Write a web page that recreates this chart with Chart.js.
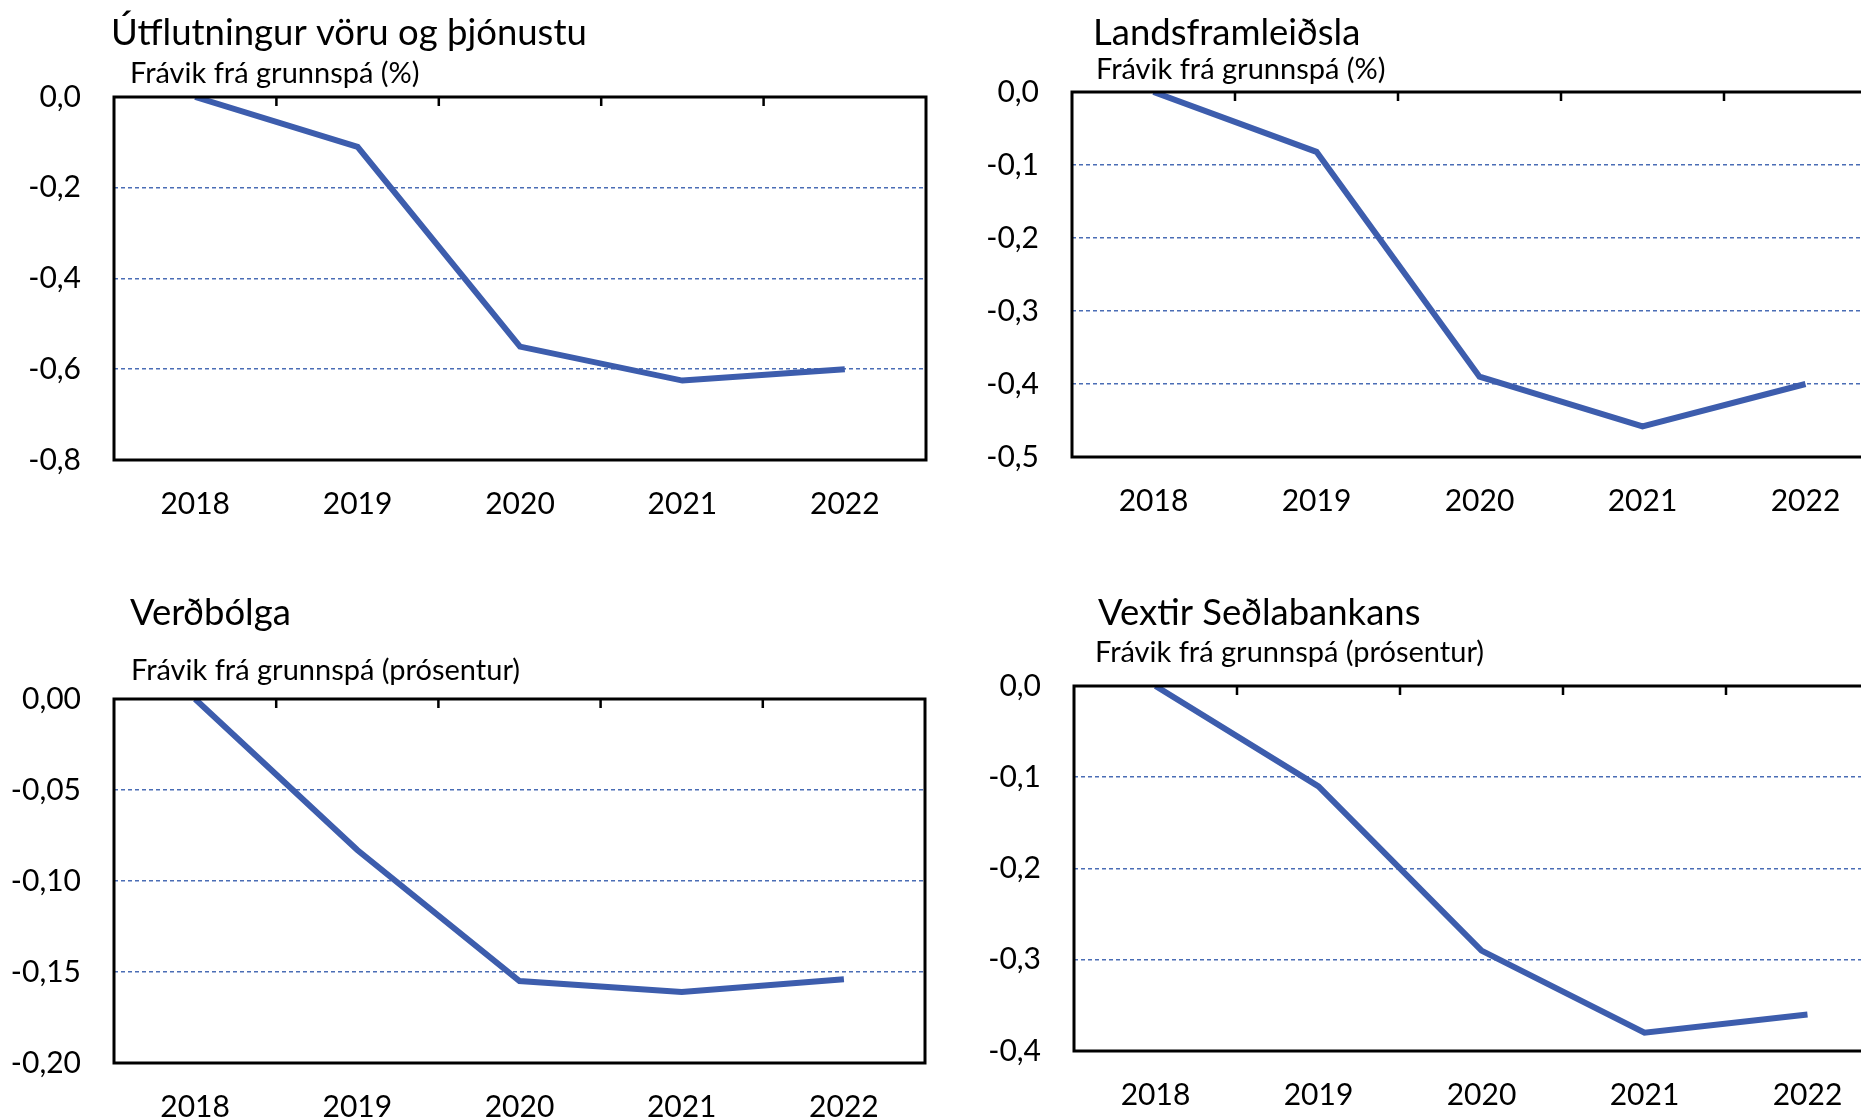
<!DOCTYPE html>
<html lang="is">
<head>
<meta charset="utf-8">
<title>Frávik frá grunnspá</title>
<script src="https://cdn.jsdelivr.net/npm/chart.js@4.4.1/dist/chart.umd.min.js"></script>
<style>
  html, body { margin: 0; padding: 0; background: #fff; overflow: hidden; }
  #page { position: relative; width: 1861px; height: 1118px; overflow: hidden; }
  canvas { position: absolute; }
</style>
</head>
<body>
<div id="page">
  <canvas id="c1" width="940" height="540" style="left:0;top:0"></canvas>
  <canvas id="c2" width="947" height="540" style="left:950px;top:0"></canvas>
  <canvas id="c3" width="940" height="570" style="left:0;top:560px"></canvas>
  <canvas id="c4" width="947" height="570" style="left:950px;top:560px"></canvas>
</div>
<script>
// ar
const years = ["2018", "2019", "2020", "2021", "2022"];

// frávik frá grunnspá, lesið af myndinni
const utflutningur = [0, -0.11, -0.55, -0.625, -0.60];
const landsframleidsla = [0, -0.082, -0.39, -0.458, -0.40];
const verdbolga = [0, -0.083, -0.155, -0.161, -0.154];
const vextir = [0, -0.11, -0.29, -0.38, -0.36];

const titles = ["Útflutningur vöru og þjónustu", "Landsframleiðsla", "Verðbólga", "Vextir Seðlabankans"];
const subtitles = ["Frávik frá grunnspá (%)", "Frávik frá grunnspá (%)",
    "Frávik frá grunnspá (prósentur)", "Frávik frá grunnspá (prósentur)"];

const yMin = [-0.8, -0.5, -0.2, -0.4];
const yStep = [0.2, 0.1, 0.05, 0.1];
const yDecimals = [1, 1, 2, 1];

const series = [utflutningur, landsframleidsla, verdbolga, vextir];

// placement of each panel inside its canvas
const panels = [
    { id: "c1", pad: { top: 97, right: 14 }, yWidth: 114, xHeight: 80, titleAt: [111, 45], subAt: [130, 83] },
    { id: "c2", pad: { top: 92, right: 10 }, yWidth: 122, xHeight: 83, titleAt: [143, 45], subAt: [146, 79] },
    { id: "c3", pad: { top: 139, right: 15 }, yWidth: 114, xHeight: 67, titleAt: [130, 65], subAt: [131, 120] },
    { id: "c4", pad: { top: 126, right: 8 }, yWidth: 124, xHeight: 79, titleAt: [148, 65], subAt: [145, 102] }
];

const FONT = "Lato";
const LINE_COLOR = "#3d5dad";
const GRID_COLOR = "#4a6db5";

const framePlugin = {
    id: "frame",
    afterDatasetsDraw(chart, args, opts) {
        const { ctx, chartArea: a, scales: { x } } = chart;
        ctx.save();
        ctx.strokeStyle = "#000";
        ctx.lineWidth = 3;
        ctx.strokeRect(a.left, a.top, a.right - a.left, a.bottom - a.top);

        // short marks between the years, hanging from the top edge
        ctx.lineWidth = 2.5;
        ctx.beginPath();
        for (let i = 1; i < x.ticks.length; i++) {
            const px = (x.getPixelForTick(i - 1) + x.getPixelForTick(i)) / 2;
            ctx.moveTo(px, a.top);
            ctx.lineTo(px, a.top + 9);
        }
        ctx.stroke();

        ctx.fillStyle = "#000";
        ctx.textAlign = "left";
        ctx.textBaseline = "alphabetic";
        ctx.font = "36.5px " + FONT;
        ctx.fillText(opts.title, opts.titleAt[0], opts.titleAt[1]);
        ctx.font = "29px " + FONT;
        ctx.fillText(opts.subtitle, opts.subAt[0], opts.subAt[1]);
        ctx.restore();
    }
};

function makeChart(i) {
    const p = panels[i];
    const ctx = document.getElementById(p.id).getContext("2d");
    return new Chart(ctx, {
        type: "line",
        data: {
            labels: years,
            datasets: [{
                data: series[i],
                borderColor: LINE_COLOR,
                borderWidth: 6,
                pointRadius: 0,
                tension: 0,
                fill: false
            }]
        },
        options: {
            responsive: false,
            animation: false,
            events: [],
            layout: { padding: { top: p.pad.top, right: p.pad.right, left: 0, bottom: 0 } },
            plugins: {
                legend: { display: false },
                tooltip: { enabled: false },
                frame: { title: titles[i], subtitle: subtitles[i], titleAt: p.titleAt, subAt: p.subAt }
            },
            scales: {
                x: {
                    type: "category",
                    offset: true,
                    grid: { display: false, drawTicks: false },
                    border: { display: false },
                    ticks: { color: "#000", font: { family: FONT, size: 30 }, padding: 26, maxRotation: 0 },
                    afterFit: s => { s.height = p.xHeight; }
                },
                y: {
                    min: yMin[i],
                    max: 0,
                    grid: {
                        drawTicks: false,
                        lineWidth: 1.6,
                        color: c => (c.index === 0 || c.tick.value === 0) ? "rgba(0,0,0,0)" : GRID_COLOR
                    },
                    border: { display: false, dash: [4, 3] },
                    ticks: {
                        stepSize: yStep[i],
                        color: "#000",
                        padding: 33,
                        font: { family: FONT, size: 30 },
                        callback: v => {
                            const s = Math.abs(v) < 1e-9 ? (0).toFixed(yDecimals[i]) : v.toFixed(yDecimals[i]);
                            return s.replace(".", ",");
                        }
                    },
                    afterFit: s => { s.width = p.yWidth; }
                }
            }
        },
        plugins: [framePlugin]
    });
}

const ready = document.fonts ? document.fonts.load("30px " + FONT) : Promise.resolve();
ready.then(() => {
    panels.forEach((p, i) => makeChart(i));
});
</script>
</body>
</html>
